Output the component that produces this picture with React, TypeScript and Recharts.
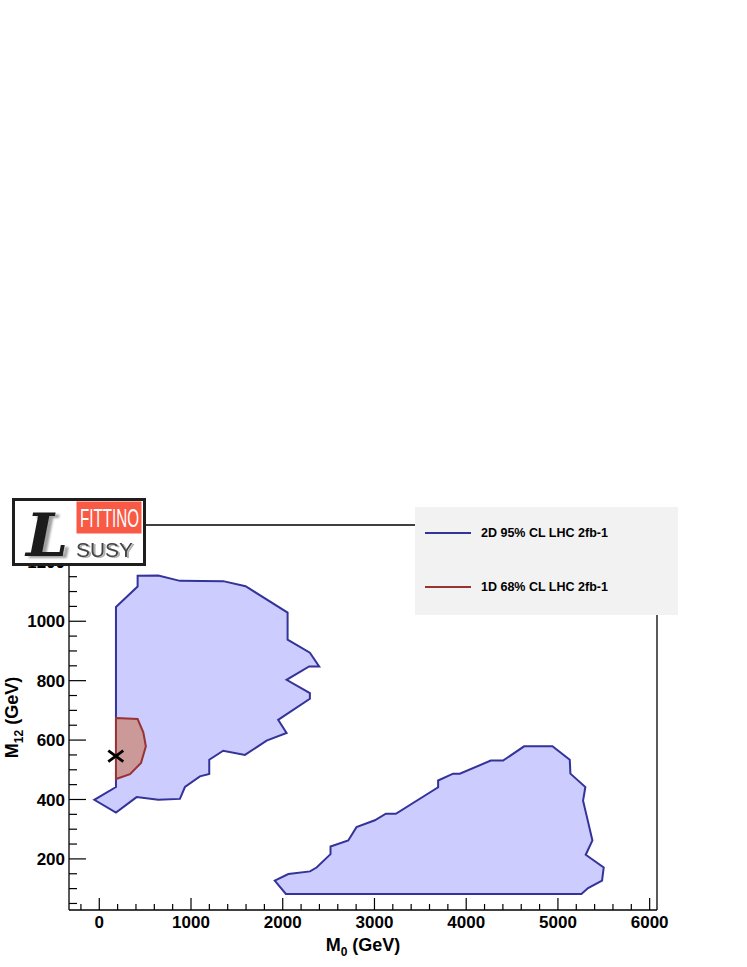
import React from "react"
import { ScatterChart, Scatter, XAxis, YAxis } from "recharts"

// axis ticks
const M0_MAJOR_TICKS = [0, 1000, 2000, 3000, 4000, 5000, 6000]
const M0_MINOR_TICKS = [
  -200, 200, 400, 600, 800, 1200, 1400, 1600, 1800, 2200, 2400, 2600, 2800,
  3200, 3400, 3600, 3800, 4200, 4400, 4600, 4800, 5200, 5400, 5600, 5800,
]
const M12_MAJOR_TICKS = [200, 400, 600, 800, 1000, 1200]
const M12_MINOR_TICKS = [
  50, 100, 150, 250, 300, 350, 450, 500, 550, 650, 700, 750, 850, 900, 950,
  1050, 1100, 1150, 1250, 1300,
]

// 2D 95% CL contour, low-M0 island
const cl95Left = [
  { m0: 182, m12: 1048 }, { m0: 418, m12: 1117 }, { m0: 418, m12: 1153 },
  { m0: 643, m12: 1154 }, { m0: 879, m12: 1136 }, { m0: 1351, m12: 1135 },
  { m0: 1595, m12: 1118 }, { m0: 2053, m12: 1029 }, { m0: 2053, m12: 938 },
  { m0: 2296, m12: 894 }, { m0: 2397, m12: 848 }, { m0: 2288, m12: 848 },
  { m0: 2042, m12: 803 }, { m0: 2296, m12: 758 }, { m0: 2296, m12: 739 },
  { m0: 1950, m12: 668 }, { m0: 2042, m12: 624 }, { m0: 1824, m12: 598 },
  { m0: 1588, m12: 550 }, { m0: 1351, m12: 564 }, { m0: 1199, m12: 534 },
  { m0: 1199, m12: 486 }, { m0: 1097, m12: 478 }, { m0: 934, m12: 442 },
  { m0: 879, m12: 402 }, { m0: 643, m12: 399 }, { m0: 407, m12: 408 },
  { m0: 182, m12: 356 }, { m0: -54, m12: 399 }, { m0: 182, m12: 442 },
]

// 2D 95% CL contour, high-M0 island
const cl95Right = [
  { m0: 1913, m12: 127 }, { m0: 2061, m12: 149 }, { m0: 2297, m12: 158 },
  { m0: 2369, m12: 171 }, { m0: 2521, m12: 216 }, { m0: 2521, m12: 242 },
  { m0: 2714, m12: 262 }, { m0: 2804, m12: 307 }, { m0: 3004, m12: 330 },
  { m0: 3124, m12: 352 }, { m0: 3233, m12: 352 }, { m0: 3694, m12: 441 },
  { m0: 3694, m12: 464 }, { m0: 3857, m12: 487 }, { m0: 3930, m12: 487 },
  { m0: 4268, m12: 531 }, { m0: 4402, m12: 531 }, { m0: 4631, m12: 579 },
  { m0: 4940, m12: 579 }, { m0: 5129, m12: 534 }, { m0: 5136, m12: 487 },
  { m0: 5299, m12: 442 }, { m0: 5274, m12: 396 }, { m0: 5310, m12: 349 },
  { m0: 5376, m12: 262 }, { m0: 5303, m12: 214 }, { m0: 5499, m12: 171 },
  { m0: 5481, m12: 127 }, { m0: 5329, m12: 102 }, { m0: 5256, m12: 82 },
  { m0: 2034, m12: 82 },
]

// 1D 68% CL region
const cl68 = [
  { m0: 182, m12: 674 }, { m0: 418, m12: 671 }, { m0: 480, m12: 626 },
  { m0: 508, m12: 579 }, { m0: 455, m12: 523 }, { m0: 335, m12: 485 },
  { m0: 182, m12: 469 },
]

const bestFit = [{ m0: 180, m12: 546 }]

const legendItems = [
  { name: "2D 95% CL LHC 2fb-1", color: "#333399" },
  { name: "1D 68% CL LHC 2fb-1", color: "#993333" },
]

const FONT = "'Liberation Sans', Arial, Helvetica, sans-serif"
const BLUE_FILL = "#ccccff"
const BLUE_LINE = "#333399"
const RED_FILL = "#cc9999"
const RED_LINE = "#993333"

const M0_TICKS = [...M0_MAJOR_TICKS, ...M0_MINOR_TICKS].sort((a, b) => a - b)
const M12_TICKS = [...M12_MAJOR_TICKS, ...M12_MINOR_TICKS].sort((a, b) => a - b)

const polygon = (fill: string, stroke: string) => (p: any) => {
  const pts = (p.points || []).filter((q: any) => q.x != null && q.y != null)
  const d =
    pts.map((q: any, i: number) => `${i ? "L" : "M"}${q.x},${q.y}`).join("") + "Z"
  return (
    <path d={d} fill={fill} stroke={stroke} strokeWidth={2} strokeLinejoin="miter" />
  )
}

const noDot = () => <g />

const Cross = (p: any) => (
  <g stroke="#000" strokeWidth={2.8}>
    <line x1={p.cx - 7.5} y1={p.cy - 5.5} x2={p.cx + 7.5} y2={p.cy + 5.5} />
    <line x1={p.cx - 7.5} y1={p.cy + 5.5} x2={p.cx + 7.5} y2={p.cy - 5.5} />
  </g>
)

// ROOT-style ticks: drawn inwards, major ones labelled
const XTick = (props: any) => {
  const { x, y, payload } = props
  const major = M0_MAJOR_TICKS.includes(payload.value)
  return (
    <g>
      <line x1={x} y1={y} x2={x} y2={y - (major ? 12 : 6)} stroke="#000" strokeWidth={1.2} />
      {major && (
        <text
          x={x}
          y={y + 17.5}
          textAnchor="middle"
          fontFamily={FONT}
          fontWeight="bold"
          fontSize={17}
          fill="#000"
        >
          {payload.value}
        </text>
      )}
    </g>
  )
}

const YTick = (props: any) => {
  const { x, y, payload } = props
  const major = M12_MAJOR_TICKS.includes(payload.value)
  return (
    <g>
      <line x1={x} y1={y} x2={x + (major ? 17 : 8)} y2={y} stroke="#000" strokeWidth={1.2} />
      {major && (
        <text
          x={x - 4}
          y={y}
          dy="0.36em"
          textAnchor="end"
          fontFamily={FONT}
          fontWeight="bold"
          fontSize={17}
          fill="#000"
        >
          {payload.value}
        </text>
      )}
    </g>
  )
}

const XTitle = (props: any) => {
  const vb = props.viewBox
  return (
    <text
      x={vb.x + vb.width / 2}
      y={vb.y + 41}
      textAnchor="middle"
      fontFamily={FONT}
      fontWeight="bold"
      fontSize={18}
      fill="#000"
    >
      M<tspan fontSize={12} dy={5}>0</tspan>
      <tspan dy={-5}> (GeV)</tspan>
    </text>
  )
}

const YTitle = (props: any) => {
  const vb = props.viewBox
  const x = vb.x + vb.width - 51.5
  const y = vb.y + vb.height / 2
  return (
    <text
      x={x}
      y={y}
      transform={`rotate(-90, ${x}, ${y})`}
      textAnchor="middle"
      fontFamily={FONT}
      fontWeight="bold"
      fontSize={18}
      fill="#000"
    >
      M<tspan fontSize={12} dy={5}>12</tspan>
      <tspan dy={-5}> (GeV)</tspan>
    </text>
  )
}

const Logo = () => (
  <svg
    width={134}
    height={68}
    style={{ position: "absolute", left: 12, top: 498 }}
  >
    <rect x={1.5} y={1.5} width={131} height={65} fill="#fff" stroke="#1e1e1e" strokeWidth={3} />
    <rect x={64.5} y={3.5} width={65} height={32} fill="#f95a46" />
    <text
      x={68}
      y={29}
      fontSize={26}
      fill="#fff"
      fontFamily="'Liberation Sans Narrow', 'Liberation Sans', Arial, sans-serif"
      textLength={59}
      lengthAdjust="spacingAndGlyphs"
    >
      FITTINO
    </text>
    <text
      x={64}
      y={58.5}
      fontSize={21}
      fill="#444"
      fontFamily={FONT}
      textLength={57}
      lengthAdjust="spacingAndGlyphs"
      style={{ filter: "drop-shadow(2px 1.5px 0.5px #b0b0b0)" }}
    >
      SUSY
    </text>
    <text
      x={14}
      y={58}
      fontSize={60}
      fill="#1c1c1c"
      fontFamily="'DejaVu Serif', serif"
      fontStyle="italic"
      fontWeight="bold"
      style={{ filter: "drop-shadow(4px 2px 1px #a0a0a0)" }}
    >
      L
    </text>
  </svg>
)

const LegendBox = () => (
  <div
    style={{
      position: "absolute",
      left: 415,
      top: 507,
      width: 263,
      height: 108,
      background: "#f2f2f2",
    }}
  >
    {legendItems.map((item, i) => (
      <div
        key={item.name}
        style={{
          position: "absolute",
          left: 10,
          top: 19 + i * 54,
          display: "flex",
          alignItems: "center",
          fontFamily: FONT,
          fontWeight: "bold",
          fontSize: 12.5,
          color: "#000",
          whiteSpace: "nowrap",
        }}
      >
        <span
          style={{
            display: "inline-block",
            width: 46,
            height: 2,
            background: item.color,
            marginRight: 10,
          }}
        />
        {item.name}
      </div>
    ))}
  </div>
)

export default function App() {
  return (
    <div style={{ position: "absolute", left: 0, top: 0, width: 747, height: 967, background: "#fff" }}>
      <ScatterChart
        width={747}
        height={967}
        margin={{ top: 524, right: 89, bottom: 0, left: 0 }}
      >
        <XAxis
          xAxisId="main"
          dataKey="m0"
          type="number"
          domain={[-330, 6080]}
          allowDataOverflow
          ticks={M0_TICKS}
          interval={0}
          height={57}
          tickSize={0}
          tickMargin={0}
          tick={XTick}
          tickLine={false}
          axisLine={{ stroke: "#000", strokeWidth: 1.3 }}
          label={{ content: XTitle }}
        />
        <XAxis
          xAxisId="top"
          orientation="top"
          type="number"
          domain={[-330, 6080]}
          height={1}
          tick={false}
          tickLine={false}
          axisLine={{ stroke: "#000", strokeWidth: 1.3 }}
        />
        <YAxis
          yAxisId="main"
          dataKey="m12"
          type="number"
          domain={[28, 1324]}
          allowDataOverflow
          ticks={M12_TICKS}
          interval={0}
          width={69}
          tickSize={0}
          tickMargin={0}
          tick={YTick}
          tickLine={false}
          axisLine={{ stroke: "#000", strokeWidth: 1.3 }}
          label={{ content: YTitle }}
        />
        <YAxis
          yAxisId="right"
          orientation="right"
          type="number"
          domain={[28, 1324]}
          width={1}
          tick={false}
          tickLine={false}
          axisLine={{ stroke: "#000", strokeWidth: 1.3 }}
        />
        <Scatter
          name="2D 95% CL LHC 2fb-1"
          data={cl95Left}
          xAxisId="main"
          yAxisId="main"
          fill={BLUE_LINE}
          line={polygon(BLUE_FILL, BLUE_LINE)}
          lineType="joint"
          shape={noDot}
          isAnimationActive={false}
        />
        <Scatter
          name="2D 95% CL LHC 2fb-1 (b)"
          data={cl95Right}
          xAxisId="main"
          yAxisId="main"
          fill={BLUE_LINE}
          line={polygon(BLUE_FILL, BLUE_LINE)}
          lineType="joint"
          shape={noDot}
          isAnimationActive={false}
        />
        <Scatter
          name="1D 68% CL LHC 2fb-1"
          data={cl68}
          xAxisId="main"
          yAxisId="main"
          fill={RED_LINE}
          line={polygon(RED_FILL, RED_LINE)}
          lineType="joint"
          shape={noDot}
          isAnimationActive={false}
        />
        <Scatter
          name="best fit"
          data={bestFit}
          xAxisId="main"
          yAxisId="main"
          fill="#000"
          shape={Cross}
          isAnimationActive={false}
        />
      </ScatterChart>
      <Logo />
      <LegendBox />
    </div>
  )
}
